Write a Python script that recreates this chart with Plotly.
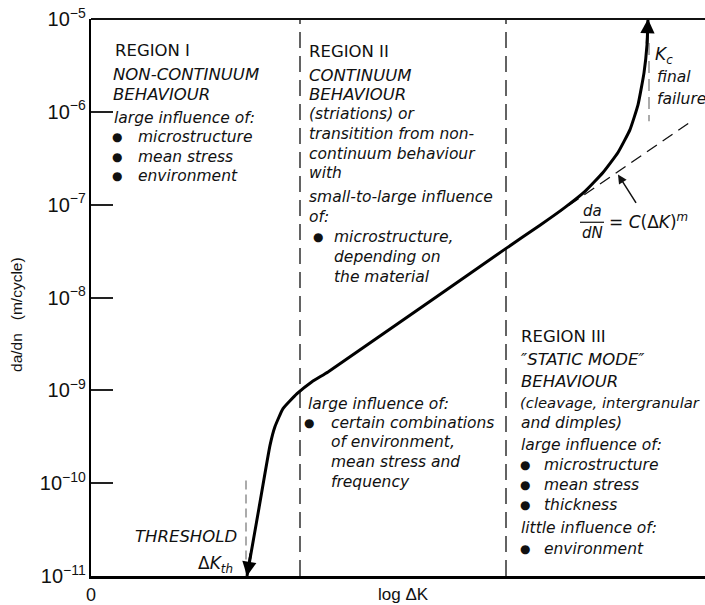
import plotly.graph_objects as go

# ---------------- data (x: log ΔK in arbitrary units, y: da/dN in m/cycle) ----------------
curve_logdk = [1.56, 1.68, 1.79, 1.84, 1.92, 2.06, 2.21, 2.37, 3.42, 4.14, 4.49, 4.74,
               4.94, 5.12, 5.27, 5.39, 5.47, 5.53, 5.56, 5.57]
curve_dadn = [1.0e-11, 5.4e-11, 2.55e-10, 4.07e-10, 6.35e-10, 9.2e-10, 1.24e-9, 1.58e-9,
              9.6e-9, 3.32e-8, 6.0e-8, 9.35e-8, 1.39e-7, 2.22e-7, 3.65e-7, 6.44e-7,
              1.19e-6, 2.63e-6, 5.26e-6, 1.0e-5]
paris_logdk = [4.62, 6.01]
paris_dadn = [7.5e-8, 8.0e-7]
region_bounds = [2.09, 4.15]
region_span = [1.0e-11, 1.0e-5]
threshold_logdk = 1.55
threshold_span = [1.07e-10, 1.0e-11]
kc_logdk = 5.58
kc_span = [5.5e-6, 7.9e-7]
y_tick_range = [-11, -5]
x_tick_values = [0]
x_tick_labels = ["0"]

# ---------------- geometry helpers ----------------
W, H = 705, 605
L, R, T, B = 91, 0, 19, 27
PW, PH = W - L - R, H - T - B


def P(px, py):
    return (px - L) / PW, (H - B - py) / PH


TXT = "DejaVu Sans"
ARIAL = "Liberation Sans"
INK = "#111111"

fig = go.Figure()

for xb in region_bounds:
    fig.add_trace(go.Scatter(x=[xb, xb], y=region_span, mode="lines",
                             line=dict(color="#222", width=1.4, dash="16px,8px"),
                             hoverinfo="skip"))
fig.add_trace(go.Scatter(x=[threshold_logdk] * 2, y=threshold_span, mode="lines",
                         line=dict(color="#888", width=1.4, dash="9px,5px"), hoverinfo="skip"))
fig.add_trace(go.Scatter(x=[kc_logdk] * 2, y=kc_span, mode="lines",
                         line=dict(color="#888", width=1.4, dash="12px,6px"), hoverinfo="skip"))
fig.add_trace(go.Scatter(x=paris_logdk, y=paris_dadn, mode="lines",
                         line=dict(color="#111", width=1.3, dash="12px,7px"), hoverinfo="skip"))
fig.add_trace(go.Scatter(x=curve_logdk, y=curve_dadn, mode="lines",
                         line=dict(color="#000", width=3, shape="spline", smoothing=0.4),
                         hoverinfo="skip"))

ann = []


def text(s, px, py, size=15.5, xanchor="left", font=TXT):
    x, y = P(px, py)
    ann.append(dict(text=s, x=x, y=y, xref="paper", yref="paper", xanchor=xanchor,
                    yanchor="middle", showarrow=False,
                    font=dict(family=font, size=size, color=INK)))


def bullet(px, py):
    x, y = P(px, py)
    ann.append(dict(text="●", x=x, y=y, xref="paper", yref="paper", xanchor="center",
                    yanchor="middle", showarrow=False,
                    font=dict(family=TXT, size=12, color=INK)))


CAP = 16.5
# Region I
text("REGION I", 113, 51, CAP)
text("<i>NON-CONTINUUM</i>", 111, 75, CAP)
text("<i>BEHAVIOUR</i>", 111, 95, CAP)
text("<i>large influence of:</i>", 112, 118)
for yy, s in [(137, "microstructure"), (157, "mean stress"), (177, "environment")]:
    bullet(117, yy)
    text("<i>" + s + "</i>", 136, yy)

# Region II (upper)
text("REGION II", 307, 52, CAP)
text("<i>CONTINUUM</i>", 307, 76, CAP)
text("<i>BEHAVIOUR</i>", 307, 95, CAP)
for yy, s in [(114, "(striations) or"), (134, "transitition from non-"),
              (154, "continuum behaviour"), (174, "with"),
              (198, "small-to-large influence"), (218, "of:")]:
    text("<i>" + s + "</i>", 307, yy)
bullet(318, 238)
for yy, s in [(238, "microstructure,"), (258, "depending on"), (278, "the material")]:
    text("<i>" + s + "</i>", 332, yy)

# Region II (lower)
text("<i>large influence of:</i>", 306, 405)
bullet(309, 424)
for yy, s in [(424, "certain combinations"), (444, "of environment,"),
              (464, "mean stress and"), (484, "frequency")]:
    text("<i>" + s + "</i>", 329, yy)

# Region III
text("REGION III", 519, 338, CAP)
text("<i>\u2033STATIC MODE\u2033</i>", 519, 361, CAP)
text("<i>BEHAVIOUR</i>", 519, 383, CAP)
text("<i>(cleavage, intergranular</i>", 518, 404, 14.8)
text("<i>and dimples)</i>", 519, 424)
text("<i>large influence of:</i>", 519, 447)
for yy, s in [(467, "microstructure"), (487, "mean stress"), (507, "thickness")]:
    bullet(525, yy)
    text("<i>" + s + "</i>", 542, yy)
text("<i>little influence of:</i>", 519, 530)
bullet(525, 551)
text("<i>environment</i>", 542, 551)

# threshold
text("<i>THRESHOLD</i>", 239, 538, CAP, xanchor="right")
text("Δ<i>K</i><sub><i>th</i></sub>", 235, 566, 17, xanchor="right")

# Kc
text("<i>K</i><sub><i>c</i></sub>", 653, 56, 17)
text("<i>final</i>", 655, 77)
text("<i>failure</i>", 655, 99)

# Paris law formula
text("<i>da</i>", 592, 212, 15, xanchor="center")
text("<i>dN</i>", 592, 234, 15, xanchor="center")
text("= <i>C</i>(Δ<i>K</i>)<sup><i>m</i></sup>", 607, 222, 17)

# arrows on curve and formula pointer
xa, ya = P(648, 19)
ann.append(dict(x=xa, y=ya, xref="paper", yref="paper", ax=-1, ay=26, showarrow=True,
                arrowhead=2, arrowsize=1.1, arrowwidth=2.6, arrowcolor="#000", text=""))
xa, ya = P(247, 578)
ann.append(dict(x=xa, y=ya, xref="paper", yref="paper", ax=4, ay=-24, showarrow=True,
                arrowhead=2, arrowsize=1.1, arrowwidth=2.6, arrowcolor="#000", text=""))
xa, ya = P(618, 175)
ann.append(dict(x=xa, y=ya, xref="paper", yref="paper", ax=19, ay=30, showarrow=True,
                arrowhead=2, arrowsize=1.2, arrowwidth=1.5, arrowcolor="#111", text=""))

# axis titles
tx, ty = P(17, 316)
ann.append(dict(text="da/dn\u00a0\u00a0\u00a0(m/cycle)", x=tx, y=ty, xref="paper", yref="paper",
                xanchor="center", yanchor="middle", textangle=-90, showarrow=False,
                font=dict(family=ARIAL, size=15.5, color=INK)))
text("log ΔK", 403, 597, 17, xanchor="center", font=ARIAL)

fx0, fy0 = P(580, 223)
fx1, _ = P(604, 223)

fig.update_layout(
    width=W, height=H,
    margin=dict(l=L, r=R, t=T, b=B, pad=0),
    paper_bgcolor="white", plot_bgcolor="white",
    showlegend=False,
    annotations=ann,
    shapes=[dict(type="line", xref="paper", yref="paper", x0=0, x1=1, y0=1, y1=1,
                 line=dict(color="#111", width=1.8)),
            dict(type="line", xref="paper", yref="paper", x0=fx0, x1=fx1, y0=fy0, y1=fy0,
                 line=dict(color="#111", width=1.2))],
    xaxis=dict(range=[0, PW / 100], showgrid=False, zeroline=False, showline=True,
               linecolor="#000", linewidth=3, ticks="", tickvals=x_tick_values,
               ticktext=x_tick_labels, tickfont=dict(family=ARIAL, size=18, color=INK)),
    yaxis=dict(type="log", range=y_tick_range, dtick=1, showgrid=False, zeroline=False,
               showline=True, linecolor="#000", linewidth=2, ticks="inside", ticklen=22,
               tickwidth=1.5, tickcolor="#222", exponentformat="power",
               tickfont=dict(family=ARIAL, size=16, color=INK)),
)

fig.write_html("out.html", config={"displayModeBar": False},
               post_script="document.body.style.margin='0';document.body.style.overflow='hidden';")
